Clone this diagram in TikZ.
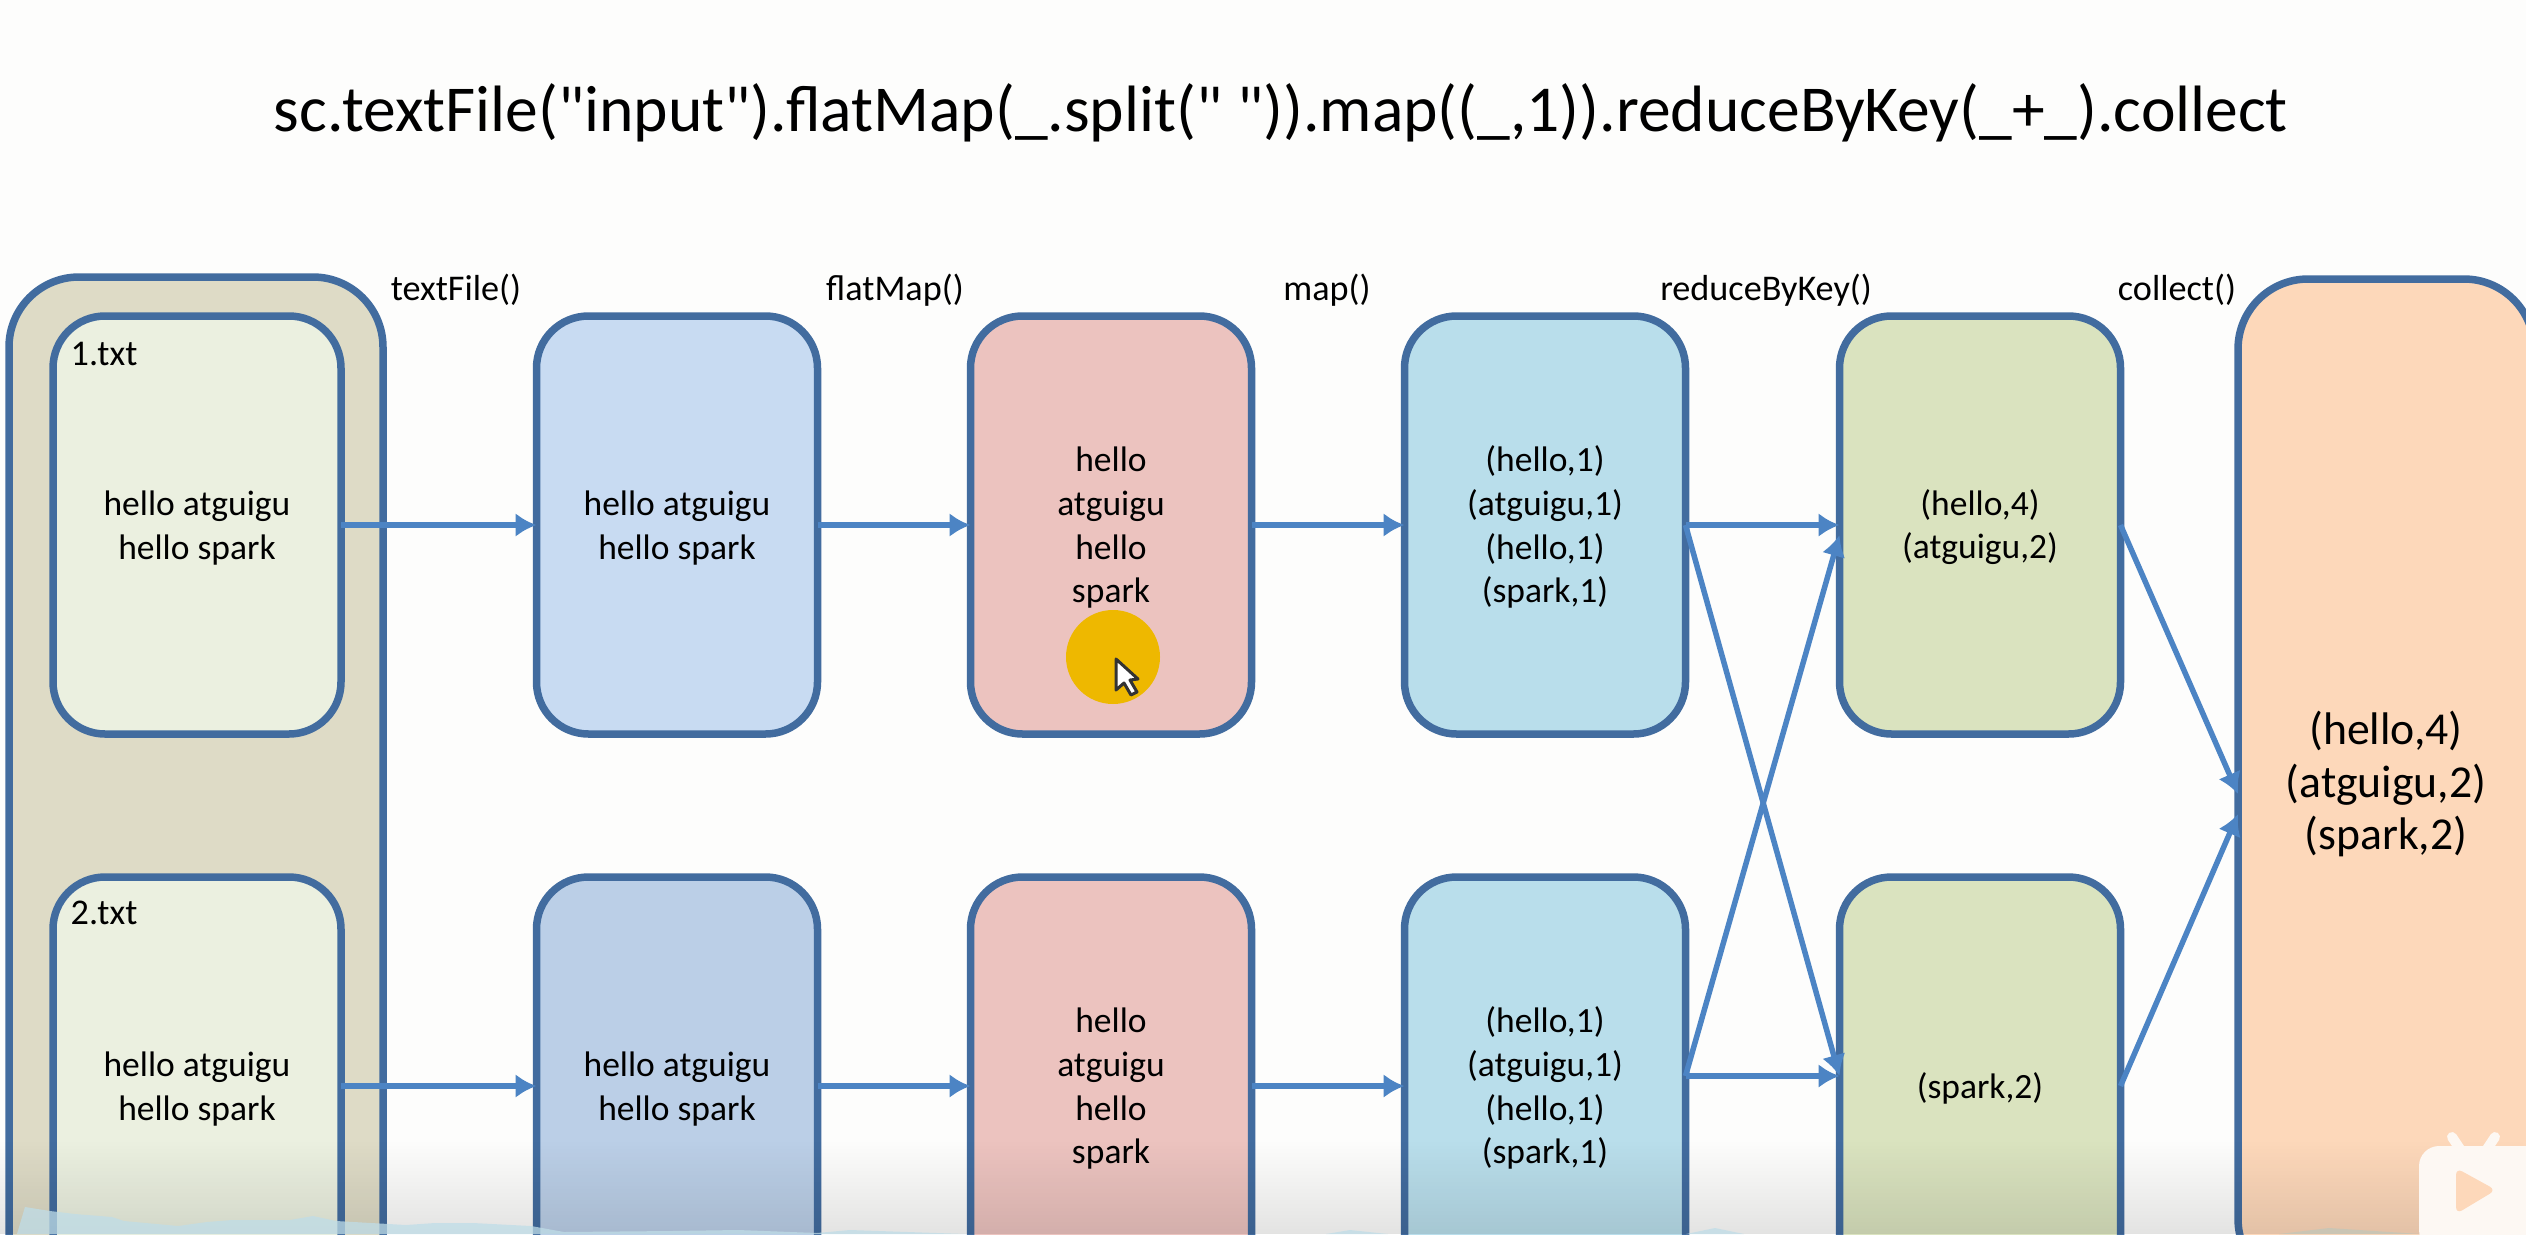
\documentclass[tikz,border=0pt]{standalone}
\usepackage{fontspec}
\setmainfont{Carlito}
\newfontfamily\titlefont{Carlito}
\usepackage{tikz}
\usetikzlibrary{arrows.meta, positioning, fadings}
\definecolor{lineblue}{HTML}{426C9F}
\definecolor{arrowblue}{HTML}{4C84C4}
\definecolor{papercol}{HTML}{FDFDFC}
\definecolor{outerfill}{HTML}{DEDBC6}
\definecolor{filefill}{HTML}{EBF0E0}
\definecolor{blueA}{HTML}{C8DBF2}
\definecolor{blueB}{HTML}{BBCFE7}
\definecolor{redbox}{HTML}{ECC3BF}
\definecolor{cyanbox}{HTML}{B9DEEB}
\definecolor{greenbox}{HTML}{DAE3BF}
\definecolor{orangebox}{HTML}{FDD8BA}
\definecolor{cursorgold}{HTML}{EEB800}
\definecolor{wavecol}{HTML}{BFDDE8}
\definecolor{wavegrey}{HTML}{C4C6B8}
\definecolor{logocol}{HTML}{FDF8F3}
\newcommand{\topgap}{\rule{0pt}{8.6pt}}
\begin{document}
\begin{tikzpicture}[
        x=0.1mm, y=-0.1mm,
        rdd/.style={rectangle, draw=lineblue, line width=0.75mm, outer sep=0pt, rounded corners=5.2mm, minimum width=28.1mm, minimum height=41.8mm, align=center, font=\fontsize{10.1}{12.4}\selectfont},
        bigbox/.style={rectangle, draw=lineblue, line width=0.75mm, outer sep=0pt, rounded corners=7mm, minimum width=37.4mm, align=center},
        oplabel/.style={font=\fontsize{10.3}{12}\selectfont, inner sep=0pt},
        arrow/.style={-{Latex[length=2.1mm, width=2.4mm]}, line width=0.55mm, arrowblue}
    ]
        \path[use as bounding box, clip] (0,0) rectangle (2526,1234);
        \fill[papercol] (0,0) rectangle (2526,1234);

        \node[inner sep=0pt, font=\fontsize{18.65}{22}\selectfont\titlefont] (title) at (1281,113) {sc.textFile("input").flatMap(\_.split(" ")).map((\_,1)).reduceByKey(\_+\_).collect};

        \node[bigbox, fill=outerfill, minimum height=106mm] (input) at (196,807) {};
        \node[rdd, fill=filefill, minimum width=28.8mm] (fileA) at (197,525) {\topgap hello atguigu\\hello spark};
        \node[rdd, fill=filefill, minimum width=28.8mm] (fileB) at (197,1086) {\topgap hello atguigu\\hello spark};
        \node[oplabel, anchor=west] (nameA) at (70,354) {1.txt};
        \node[oplabel, anchor=west] (nameB) at (70,913) {2.txt};

        \node[rdd, fill=blueA] (lineA) at (677,525) {\topgap hello atguigu\\hello spark};
        \node[rdd, fill=blueB] (lineB) at (677,1086) {\topgap hello atguigu\\hello spark};
        \node[rdd, fill=redbox] (wordA) at (1111,525) {\topgap hello\\atguigu\\hello\\spark};
        \node[rdd, fill=redbox] (wordB) at (1111,1086) {\topgap hello\\atguigu\\hello\\spark};
        \node[rdd, fill=cyanbox] (pairA) at (1545,525) {\topgap (hello,1)\\(atguigu,1)\\(hello,1)\\(spark,1)};
        \node[rdd, fill=cyanbox] (pairB) at (1545,1086) {\topgap (hello,1)\\(atguigu,1)\\(hello,1)\\(spark,1)};
        \node[rdd, fill=greenbox] (sumA) at (1980,525) {\topgap (hello,4)\\(atguigu,2)};
        \node[rdd, fill=greenbox] (sumB) at (1980,1086) {\rule{0pt}{9pt}(spark,2)};
        \node[bigbox, fill=orangebox, minimum width=29.6mm, minimum height=101mm, font=\fontsize{13}{15}\selectfont] (result) at (2386,784) {(hello,4)\\(atguigu,2)\\(spark,2)};

        \node[oplabel] (opA) at (456,290) {textFile()};
        \node[oplabel] (opB) at (895,290) {flatMap()};
        \node[oplabel] (opC) at (1327,290) {map()};
        \node[oplabel] (opD) at (1766,290) {reduceByKey()};
        \node[oplabel] (opE) at (2177,290) {collect()};

        \draw[arrow] (fileA) -- (lineA);
        \draw[arrow] (fileB) -- (lineB);
        \draw[arrow] (lineA) -- (wordA);
        \draw[arrow] (lineB) -- (wordB);
        \draw[arrow] (wordA) -- (pairA);
        \draw[arrow] (wordB) -- (pairB);
        \draw[arrow] (pairA.east) -- (sumA.west);
        \draw[arrow] (pairA.east) -- ([yshift=1mm]sumB.west);
        \draw[arrow] ([yshift=1mm]pairB.east) -- ([yshift=1mm]sumB.west);
        \draw[arrow] ([yshift=1mm]pairB.east) -- ([yshift=-1mm]sumA.west);
        \draw[arrow] (sumA.east) -- ([yshift=-1mm]result.west);
        \draw[arrow] (sumB.east) -- ([yshift=-3mm]result.west);

        \fill[cursorgold] (1113,657) circle (47);
        \draw[black!80, fill=white, line width=0.3mm, line join=round] (1116,659) -- (1116,690) -- (1124,683) -- (1131,695) -- (1137,692) -- (1130,680) -- (1138,679) -- cycle;

        \fill[black, opacity=0.1, path fading=north] (0,1140) rectangle (2526,1234);
        \fill[wavecol, opacity=0.75] (17,1234) -- (25,1207) -- (50,1211) -- (75,1214) -- (112,1217) -- (124,1221) -- (178,1226) -- (207,1222) -- (232,1220) -- (290,1220) -- (313,1216) -- (336,1221) -- (406,1225) -- (435,1223) -- (473,1223) -- (531,1226) -- (564,1232) -- (672,1231) -- (738,1230) -- (817,1233) -- (850,1230) -- (966,1234) -- cycle;
        \fill[wavecol, opacity=0.75] (1326,1234) -- (1350,1230) -- (1388,1234) -- cycle;
        \fill[wavecol, opacity=0.75] (1686,1234) -- (1715,1228) -- (1744,1234) -- cycle;
        \fill[wavegrey, opacity=0.8] (2279,1234) -- (2329,1228) -- (2420,1234) -- cycle;

        \fill[logocol, rounded corners=2mm] (2419,1146) rectangle (2546,1250);
        \draw[logocol, line width=1mm, line cap=round] (2452,1137) -- (2462,1152);
        \draw[logocol, line width=1mm, line cap=round] (2495,1137) -- (2485,1152);
        \fill[orangebox, rounded corners=0.7mm] (2456,1168) -- (2496,1190) -- (2456,1214) -- cycle;
    \end{tikzpicture}
\end{document}
